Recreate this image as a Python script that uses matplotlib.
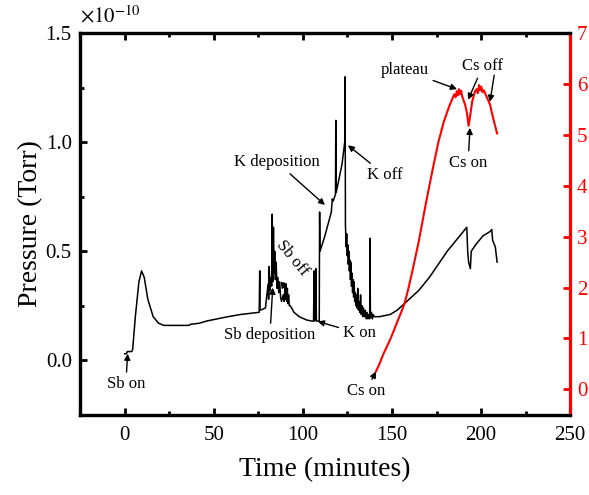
import matplotlib
matplotlib.use('Agg')
import matplotlib.pyplot as plt
from matplotlib.ticker import MultipleLocator

plt.rcParams['font.family'] = ['Liberation Serif', 'DejaVu Serif']
plt.rcParams['mathtext.fontset'] = 'stix'

# pressure (units of 1e-10 Torr) vs time (minutes)
t_p = [0, 1, 1.5, 4, 4.5, 6, 8, 9.5, 11, 13, 16, 19, 22, 36, 37, 42, 46, 52, 58, 65, 70, 75.5,
       75.8, 76, 76.3, 79, 80.5, 80.8, 81.1, 81.5, 82, 82.5, 82.8, 83.1, 83.5, 83.9, 84.2, 84.6,
       85, 85.5, 86, 86.5, 87, 87.5, 88, 89, 89.5, 90, 90.3, 90.6, 91, 91.3, 91.6, 92, 92.4, 93, 95,
       98, 102, 105, 106,
       106.3, 106.6, 107, 107.3, 107.6, 109.2, 109.4, 109.6, 112, 114, 116, 116.5, 117, 118.3,
       118.5, 118.7, 120, 122, 123.5, 123.7, 123.9,
       124.3, 124.6, 124.9, 125.2, 125.5, 125.8, 126.1, 126.4, 126.7, 127, 127.3, 127.6, 127.9,
       128.2, 128.5, 128.8, 129.1, 129.4, 129.7, 130, 130.4, 130.8, 131.2, 131.6, 132, 132.4,
       132.8, 133.2, 133.6, 134, 134.5, 135, 135.5, 136, 136.5, 137, 137.5, 137.7, 137.9, 138.5,
       139, 139.5, 140,
       143, 149, 153, 157, 165, 171, 176, 181, 186, 191, 192, 192.5, 193, 194, 194.5, 197, 201, 205,
       206, 206.5, 208, 209]
p = [0.03, 0.03, 0.04, 0.04, 0.05, 0.2, 0.36, 0.41, 0.38, 0.28, 0.2, 0.17, 0.16, 0.16, 0.165,
     0.17, 0.18, 0.19, 0.2, 0.21, 0.215, 0.22,
     0.41, 0.23, 0.23, 0.24, 0.35, 0.28, 0.43, 0.32, 0.38, 0.34, 0.67, 0.36, 0.61, 0.4, 0.5, 0.37,
     0.45, 0.33, 0.38, 0.31, 0.36, 0.29, 0.27, 0.3, 0.27, 0.34, 0.28, 0.35, 0.27, 0.33, 0.26, 0.3,
     0.25, 0.25, 0.22, 0.2, 0.185, 0.18, 0.18,
     0.41, 0.18, 0.2, 0.42, 0.18, 0.18, 0.68, 0.5, 0.56, 0.62, 0.68, 0.74, 0.73, 0.76,
     1.1, 0.77, 0.82, 0.9, 1.0, 1.3, 0.62,
     0.52, 0.58, 0.48, 0.53, 0.44, 0.5, 0.41, 0.46, 0.37, 0.45, 0.34, 0.4, 0.31,
     0.37, 0.29, 0.36, 0.27, 0.31, 0.25, 0.3, 0.24, 0.33, 0.23, 0.27, 0.22, 0.3,
     0.21, 0.25, 0.2, 0.24, 0.2, 0.23, 0.19, 0.22, 0.19, 0.21, 0.19, 0.56, 0.2, 0.22,
     0.19, 0.21, 0.2,
     0.2, 0.21, 0.23, 0.26, 0.32, 0.38, 0.44, 0.5, 0.55, 0.6, 0.61, 0.5, 0.45, 0.42, 0.5, 0.53, 0.57,
     0.59, 0.6, 0.55, 0.52, 0.45]

# second quantity (right axis, red)
t_r = [141, 143, 145, 147, 149, 151, 153, 155, 157, 159, 161, 165, 169, 173, 176, 179, 182,
       184, 185, 185.7, 186.4, 187, 187.6, 188.2, 188.8, 189.4, 190, 191, 192, 193, 194, 195,
       196.5, 197.5, 198.2, 198.9, 199.5, 200.1, 200.8, 201.5, 203, 205, 207, 209]
r = [0.35, 0.5, 0.68, 0.83, 0.98, 1.15, 1.33, 1.5, 1.68, 1.95, 2.25, 2.9, 3.65, 4.35, 4.85,
     5.25, 5.55, 5.72, 5.8, 5.74, 5.86, 5.78, 5.9, 5.8, 5.87, 5.76, 5.7, 5.6, 5.45, 5.18, 5.4,
     5.65, 5.85, 5.9, 5.82, 5.98, 5.88, 5.95, 5.84, 5.88, 5.76, 5.6, 5.3, 5.03]

fig = plt.figure(figsize=(5.89, 4.95), dpi=100)
ax = fig.add_axes([0.136, 0.162, 0.832, 0.771])
ax2 = ax.twinx()

ax.plot(t_p, p, color='k', lw=1.1)
ax2.plot(t_r, r, color='red', lw=1.5)

ax.set_xlim(-25, 250)
ax.set_ylim(-0.25, 1.5)
ax2.set_ylim(-0.5, 7)

ax.xaxis.set_major_locator(MultipleLocator(50))
ax.xaxis.set_minor_locator(MultipleLocator(25))
ax.yaxis.set_major_locator(MultipleLocator(0.5))
ax.yaxis.set_minor_locator(MultipleLocator(0.25))
ax.yaxis.set_major_formatter(matplotlib.ticker.FormatStrFormatter('%.1f'))
ax2.yaxis.set_major_locator(MultipleLocator(1))

ax.tick_params(which='both', direction='in', top=True, right=False, width=2, labelsize=15)
ax.tick_params(which='major', length=5)
ax.tick_params(which='minor', length=3)
ax.tick_params(axis='x', pad=8)
ax.tick_params(axis='y', pad=6)
ax2.tick_params(direction='in', width=2, length=5, colors='red', labelsize=15, pad=5)

for s in ['left', 'top', 'bottom']:
    ax.spines[s].set_linewidth(2.3)
    ax2.spines[s].set_linewidth(2.3)
ax2.spines['right'].set_linewidth(2.3)
ax2.spines['right'].set_color('red')
ax.spines['right'].set_visible(False)

ax.set_xlabel('Time (minutes)', fontsize=20, labelpad=9)
ax.set_ylabel('Pressure (Torr)', fontsize=20, labelpad=2)
ax.text(0.0, 1.015, r'$\times 10^{-10}$', transform=ax.transAxes, fontsize=15, ha='left', va='bottom')

arr = dict(arrowstyle='-|>', color='k', lw=1, mutation_scale=9, shrinkA=1, shrinkB=0)
fs = 12
ax.annotate('Sb on', xy=(1.7, 0.03), xytext=(0.6, -0.11), fontsize=fs, ha='center', va='center', arrowprops=arr)
ax.annotate('Sb deposition', xy=(83.1, 0.333), xytext=(81.5, 0.114), fontsize=fs, ha='center', va='center', arrowprops=arr)
ax.annotate('Sb off', xy=(88.2, 0.324), xytext=(94, 0.47), fontsize=fs, ha='center', va='center', rotation=-50, arrowprops=arr)
ax.annotate('K on', xy=(108.4, 0.178), xytext=(131.5, 0.123), fontsize=fs, ha='center', va='center', arrowprops=arr)
ax.annotate('K deposition', xy=(112.4, 0.712), xytext=(85.4, 0.909), fontsize=fs, ha='center', va='center', arrowprops=arr)
ax.annotate('K off', xy=(125.3, 0.986), xytext=(146, 0.85), fontsize=fs, ha='center', va='center', arrowprops=arr)
ax2.annotate('plateau', xy=(186.5, 5.9), xytext=(157.3, 6.27), fontsize=fs, ha='center', va='center', arrowprops=arr)
ax2.annotate('Cs off', xy=(192.7, 5.69), xytext=(201, 6.35), fontsize=fs, ha='center', va='center', arrowprops=arr)
ax2.annotate('', xy=(205, 5.65), xytext=(207.5, 6.2), arrowprops=arr)
ax2.annotate('Cs on', xy=(193.8, 5.14), xytext=(192.7, 4.45), fontsize=fs, ha='center', va='center', arrowprops=arr)
ax2.annotate('Cs on', xy=(141, 0.35), xytext=(135.4, -0.04), fontsize=fs, ha='center', va='center', arrowprops=arr)

fig.savefig('out.png', dpi=100)
